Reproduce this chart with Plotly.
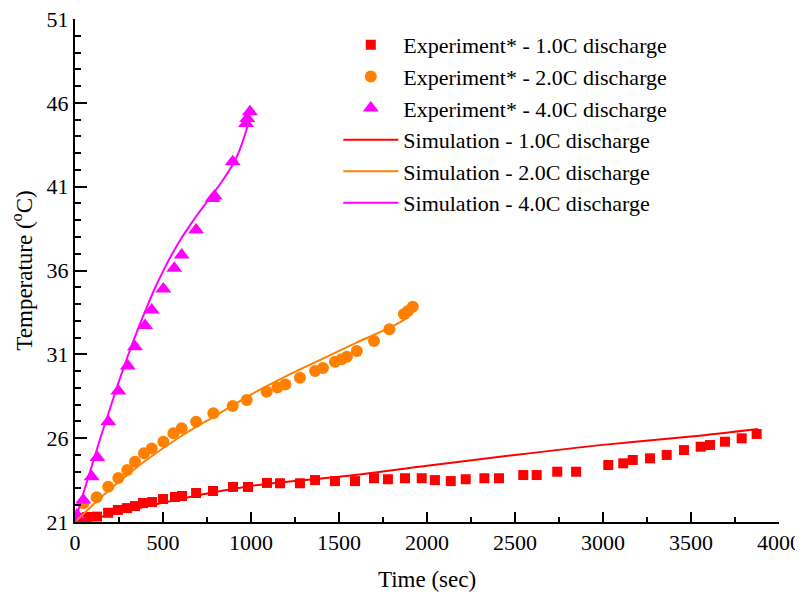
import plotly.graph_objects as go

# ---- Experiment 1.0C (squares) ----
exp1_t = [28, 68, 125, 188, 244, 295, 341, 386, 438, 500, 568, 608, 688, 784, 898, 983,
          1091, 1165, 1278, 1364, 1477, 1591, 1699, 1778, 1875, 1970, 2045, 2135, 2220,
          2326, 2409, 2547, 2623, 2740, 2847, 3030, 3115, 3169, 3267, 3362, 3460, 3555,
          3608, 3693, 3788, 3873]
exp1_T = [21.24, 21.30, 21.32, 21.55, 21.72, 21.83, 21.95, 22.13, 22.19, 22.37, 22.49, 22.55,
          22.73, 22.85, 23.09, 23.09, 23.33, 23.31, 23.31, 23.50, 23.44, 23.44, 23.61, 23.55,
          23.61, 23.61, 23.50, 23.44, 23.55, 23.61, 23.61, 23.80, 23.80, 24.00, 24.00, 24.40,
          24.50, 24.70, 24.80, 25.00, 25.29, 25.49, 25.59, 25.79, 25.99, 26.25]

# ---- Experiment 2.0C (circles) ----
exp2_t = [47, 123, 189, 246, 297, 341, 392, 436, 502, 559, 606, 688, 786, 896, 976, 1089,
          1150, 1195, 1278, 1364, 1409, 1477, 1515, 1545, 1601, 1699, 1786, 1869, 1892, 1919]
exp2_T = [22.12, 22.47, 23.10, 23.62, 24.10, 24.60, 25.10, 25.39, 25.79, 26.29, 26.59, 26.98,
          27.48, 27.92, 28.27, 28.77, 29.02, 29.20, 29.60, 30.00, 30.18, 30.56, 30.70, 30.85,
          31.20, 31.79, 32.49, 33.40, 33.58, 33.84]

# ---- Experiment 4.0C (triangles) ----
exp4_t = [11, 47, 95, 127, 189, 246, 300, 341, 398, 436, 502, 564, 606, 688, 782, 793,
          896, 972, 979, 994]
exp4_T = [21.42, 22.31, 23.70, 24.85, 26.98, 28.81, 30.30, 31.45, 32.72, 33.64, 34.89, 36.13,
          36.92, 38.41, 40.30, 40.44, 42.49, 44.77, 45.07, 45.47]

# ---- Simulations ----
sim1_t = [0, 100, 250, 500, 750, 1000, 1250, 1500, 2000, 2500, 3000, 3500, 3880]
sim1_T = [21.0, 21.2, 21.55, 22.15, 22.7, 23.15, 23.45, 23.7, 24.35, 25.0, 25.6, 26.1, 26.55]

sim2_t = [0, 100, 200, 400, 600, 800, 1000, 1200, 1400, 1600, 1800, 1900]
sim2_T = [21.0, 22.0, 22.95, 24.65, 26.1, 27.35, 28.6, 29.7, 30.7, 31.7, 32.65, 33.25]

sim4_t = [0, 50, 100, 150, 200, 250, 300, 350, 400, 450, 500, 550, 600, 650, 700, 750, 800,
          850, 900, 930, 950, 970, 985, 992]
sim4_T = [21.0, 22.8, 24.5, 26.2, 27.8, 29.4, 30.9, 32.3, 33.6, 34.85, 35.95, 36.95, 37.85,
          38.65, 39.4, 40.1, 40.8, 41.55, 42.4, 43.05, 43.6, 44.25, 44.8, 45.1]

x_ticks = [0, 500, 1000, 1500, 2000, 2500, 3000, 3500, 4000]
y_ticks = [21, 26, 31, 36, 41, 46, 51]

RED = "#FF0000"
ORANGE = "#FF8000"
MAGENTA = "#FF00FF"
FONT = "Liberation Serif"

fig = go.Figure()
fig.add_trace(go.Scatter(x=exp1_t, y=exp1_T, mode="markers", name="Experiment* - 1.0C discharge",
                         marker=dict(symbol="square", size=10, color=RED)))
fig.add_trace(go.Scatter(x=exp2_t, y=exp2_T, mode="markers", name="Experiment* - 2.0C discharge",
                         marker=dict(symbol="circle", size=12, color=ORANGE)))
fig.add_trace(go.Scatter(x=exp4_t, y=exp4_T, mode="markers", name="Experiment* - 4.0C discharge",
                         marker=dict(symbol="triangle-up", size=14, color=MAGENTA)))
fig.add_trace(go.Scatter(x=sim1_t, y=sim1_T, mode="lines", name="Simulation - 1.0C discharge",
                         line=dict(color=RED, width=2, shape="spline")))
fig.add_trace(go.Scatter(x=sim2_t, y=sim2_T, mode="lines", name="Simulation - 2.0C discharge",
                         line=dict(color=ORANGE, width=2, shape="spline")))
fig.add_trace(go.Scatter(x=sim4_t, y=sim4_T, mode="lines", name="Simulation - 4.0C discharge",
                         line=dict(color=MAGENTA, width=2, shape="spline")))

axis_common = dict(showline=True, linecolor="black", linewidth=2, showgrid=False, zeroline=False,
                   ticks="inside", tickcolor="black", tickwidth=2, automargin=False,
                   ticklabeloverflow="allow",
                   tickfont=dict(family=FONT, size=22, color="black"))

fig.update_xaxes(range=[0, 4000], tickvals=x_ticks, ticklen=10,
                 minor=dict(dtick=250, ticks="inside", ticklen=5, tickcolor="black", tickwidth=1.5),
                 title=dict(text="Time (sec)", font=dict(family=FONT, size=23, color="black"), standoff=16),
                 **axis_common)
fig.update_yaxes(range=[21, 51], tickvals=y_ticks, ticklen=12,
                 minor=dict(dtick=1, ticks="inside", ticklen=6, tickcolor="black", tickwidth=1.5),
                 title=dict(text="Temperature (<sup>o</sup>C)", font=dict(family=FONT, size=23, color="black"), standoff=8),
                 **axis_common)

# page has an 8px body margin: figure drawn at (8, 8)
fig.update_layout(
    width=795, height=584,
    margin=dict(l=67, r=24, t=11, b=70),
    plot_bgcolor="white", paper_bgcolor="white",
    font=dict(family=FONT, size=22, color="black"),
    legend=dict(x=0.374, y=0.99, xanchor="left", yanchor="top", bgcolor="rgba(0,0,0,0)",
                font=dict(family=FONT, size=22, color="black"), itemwidth=55,
                tracegroupgap=0),
)

fig.write_html("out.html")
